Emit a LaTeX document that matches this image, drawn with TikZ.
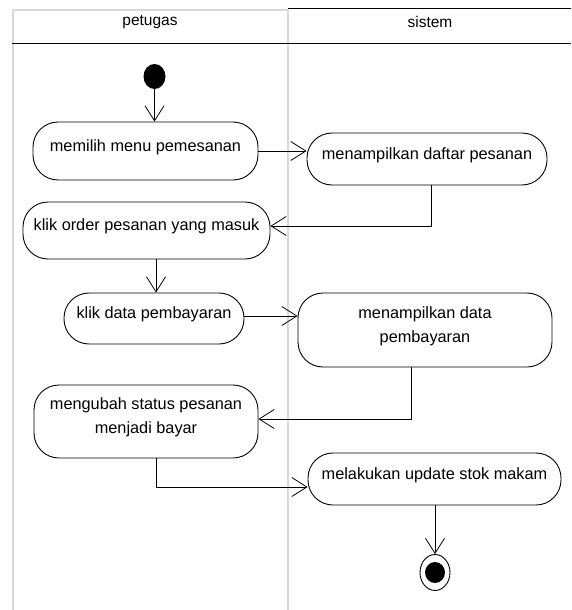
\documentclass[tikz,border=0pt]{standalone}
\usepackage{fontspec}
\setmainfont{Liberation Sans}
\usetikzlibrary{arrows.meta,positioning,shapes.geometric}

\begin{document}
\begin{tikzpicture}[x=1pt,y=-1pt,
  activity/.style={draw, line width=0.9pt, rounded corners=25pt, align=center, inner sep=0pt, text depth=11pt, font=\fontsize{16.3}{24}\selectfont},
  flow/.style={-{Straight Barb[length=15pt,width=19pt]}, line width=0.8pt},
  lane/.style={draw=black!15, line width=2pt}]
  \useasboundingbox (0,0) rectangle (571,610) ;

  \draw[lane] (13,610) -- (13,10) -- (288,10) ; %Draw left lane border
  \draw[lane] (288,10) -- (288,610) ; %Draw lane divider
  \draw[line width=0.9pt] (288,8.5) -- (571,8.5) ; %Draw top border sistem
  \draw[line width=0.9pt] (12,43.5) -- (571,43.5) ; %Draw header line
  \node[font=\fontsize{15.5}{18}\selectfont] (petugas) at (150,22) {petugas} ; %Lane title
  \node[font=\fontsize{15.5}{18}\selectfont] (sistem) at (430,22) {sistem} ;   %Lane title

  \node[fill=black, ellipse, minimum width=22pt, minimum height=25pt, inner sep=0pt] (start) at (154.5,76.5) {} ; %Initial state

  \node[activity, minimum width=225pt, minimum height=58pt] (n1) at (145.5,151) {memilih menu pemesanan} ;
  \node[activity, minimum width=240pt, minimum height=52pt] (n2) at (427,159) {menampilkan daftar pesanan} ;
  \node[activity, minimum width=247pt, minimum height=57pt] (n3) at (146.5,230.5) {klik order pesanan yang masuk} ;
  \node[activity, minimum width=180pt, minimum height=51pt] (n4) at (154,318.5) {klik data pembayaran} ;
  \node[activity, minimum width=254pt, minimum height=74pt] (n5) at (425,330) {menampilkan data\\pembayaran} ;
  \node[activity, minimum width=224pt, minimum height=73pt] (n6) at (146,421.5) {mengubah status pesanan\\menjadi bayar} ;
  \node[activity, minimum width=253pt, minimum height=52pt] (n7) at (434.5,479) {melakukan update stok makam} ;

  \node[draw, line width=0.9pt, ellipse, minimum width=30pt, minimum height=36pt, inner sep=0pt] (final) at (435,572.5) {} ; %Final state
  \node[fill=black, ellipse, minimum width=20pt, minimum height=21pt, inner sep=0pt] (finaldot) at (final) {} ;

  \draw[flow] (start) -- (start |- n1.north) ; %Start to first action
  \draw[flow] (n1.east) -- (n1.east -| n2.west) ; %Open list
  \draw[flow] ([xshift=4.5pt]n2.south) |- ([yshift=4.5pt]n3.east) ; %Back to petugas
  \draw[flow] ([xshift=2pt]n4.north |- n3.south) -- ([xshift=2pt]n4.north) ; %Down to payment
  \draw[flow] ([yshift=2.5pt]n4.east) -- ([yshift=2.5pt]n4.east -| n5.west) ; %Show payment
  \draw[flow] ([xshift=-14pt]n5.south) |- ([yshift=2.5pt]n6.east) ; %Back to petugas
  \draw[flow] ([xshift=10pt]n6.south) |- ([yshift=-8pt]n7.west) ; %Update stock
  \draw[flow] (final.north |- n7.south) -- (final.north) ; %To final state
\end{tikzpicture}
\end{document}
